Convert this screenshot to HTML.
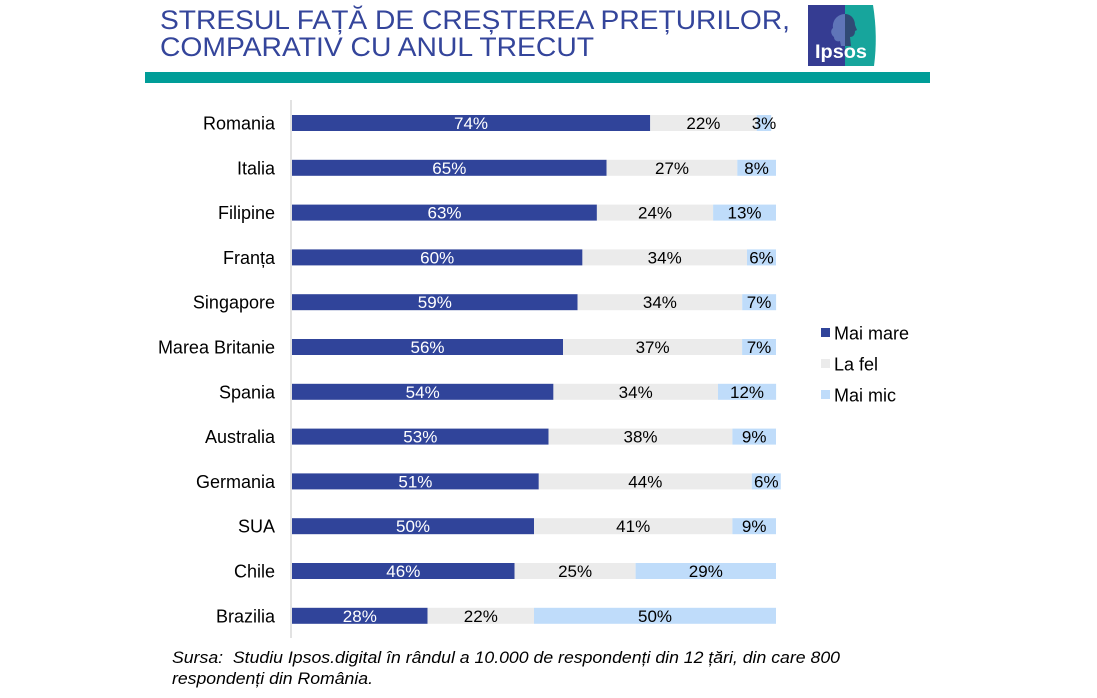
<!DOCTYPE html>
<html>
<head>
<meta charset="utf-8">
<style>
  html,body{margin:0;padding:0;background:#fff;}
  body{width:1097px;height:698px;overflow:hidden;}
  svg{display:block;font-family:"Liberation Sans",Arial,sans-serif;}
</style>
</head>
<body>
<svg width="1097" height="698" viewBox="0 0 1097 698" xmlns="http://www.w3.org/2000/svg">
  <!-- Title -->
  <g fill="#34459b" font-size="26.5">
    <text x="160" y="29" textLength="630" lengthAdjust="spacingAndGlyphs">STRESUL FAȚĂ DE CREȘTEREA PREȚURILOR,</text>
    <text x="160" y="56" textLength="434" lengthAdjust="spacingAndGlyphs">COMPARATIV CU ANUL TRECUT</text>
  </g>
  <!-- Logo -->
  <g>
    <rect x="808" y="5" width="38" height="61" fill="#353c92"/>
    <path d="M845 5 H873 Q878 36 874 66 H845 Z" fill="#17a59c"/>
    <path d="M845 14 C838 14 832 20 833 28 C830 30 831 35 834 37 C834 41 838 42 840 41 L841 46 H845 Z" fill="#6a83c2" opacity="0.8"/>
    <path d="M845 14 C851 14 855 19 855 25 L857 30 L855 31 C855 35 853 37 850 37 L851 46 H845 Z" fill="#35396f" opacity="0.85"/>
    <text x="841" y="58" font-size="19" font-weight="bold" fill="#fff" text-anchor="middle" textLength="52" lengthAdjust="spacingAndGlyphs">Ipsos</text>
  </g>
  <!-- Teal bar -->
  <rect x="145" y="72" width="785" height="11" fill="#009d98"/>

  <!-- Axis line -->
  <line x1="291" y1="100" x2="291" y2="638" stroke="#d9d9d9" stroke-width="1.5"/>

  <!-- Bars -->
  <g font-size="17">
    <g>
      <rect x="292" y="115" width="358.2" height="16" fill="#30449a"/>
      <rect x="650.2" y="115" width="106.5" height="16" fill="#ebebeb"/>
      <rect x="756.7" y="115" width="14.5" height="16" fill="#bfdcfa"/>
      <text x="471" y="129" fill="#fff" text-anchor="middle">74%</text>
      <text x="703.4" y="129" fill="#000" text-anchor="middle">22%</text>
      <text x="764" y="129" fill="#000" text-anchor="middle">3%</text>
    </g>
    <g>
      <rect x="292" y="159.8" width="314.6" height="16" fill="#30449a"/>
      <rect x="606.6" y="159.8" width="130.7" height="16" fill="#ebebeb"/>
      <rect x="737.3" y="159.8" width="38.7" height="16" fill="#bfdcfa"/>
      <text x="449.3" y="173.8" fill="#fff" text-anchor="middle">65%</text>
      <text x="672" y="173.8" text-anchor="middle">27%</text>
      <text x="756.6" y="173.8" text-anchor="middle">8%</text>
    </g>
    <g>
      <rect x="292" y="204.6" width="304.9" height="16" fill="#30449a"/>
      <rect x="596.9" y="204.6" width="116.2" height="16" fill="#ebebeb"/>
      <rect x="713.1" y="204.6" width="62.9" height="16" fill="#bfdcfa"/>
      <text x="444.5" y="218.6" fill="#fff" text-anchor="middle">63%</text>
      <text x="655" y="218.6" text-anchor="middle">24%</text>
      <text x="744.5" y="218.6" text-anchor="middle">13%</text>
    </g>
    <g>
      <rect x="292" y="249.4" width="290.4" height="16" fill="#30449a"/>
      <rect x="582.4" y="249.4" width="164.6" height="16" fill="#ebebeb"/>
      <rect x="747" y="249.4" width="29" height="16" fill="#bfdcfa"/>
      <text x="437.2" y="263.4" fill="#fff" text-anchor="middle">60%</text>
      <text x="664.7" y="263.4" text-anchor="middle">34%</text>
      <text x="761.5" y="263.4" text-anchor="middle">6%</text>
    </g>
    <g>
      <rect x="292" y="294.2" width="285.6" height="16" fill="#30449a"/>
      <rect x="577.6" y="294.2" width="164.6" height="16" fill="#ebebeb"/>
      <rect x="742.2" y="294.2" width="33.9" height="16" fill="#bfdcfa"/>
      <text x="434.8" y="308.2" fill="#fff" text-anchor="middle">59%</text>
      <text x="659.9" y="308.2" text-anchor="middle">34%</text>
      <text x="759.1" y="308.2" text-anchor="middle">7%</text>
    </g>
    <g>
      <rect x="292" y="339" width="271" height="16" fill="#30449a"/>
      <rect x="563" y="339" width="179.1" height="16" fill="#ebebeb"/>
      <rect x="742.1" y="339" width="33.9" height="16" fill="#bfdcfa"/>
      <text x="427.5" y="353" fill="#fff" text-anchor="middle">56%</text>
      <text x="652.6" y="353" text-anchor="middle">37%</text>
      <text x="759" y="353" text-anchor="middle">7%</text>
    </g>
    <g>
      <rect x="292" y="383.8" width="261.4" height="16" fill="#30449a"/>
      <rect x="553.4" y="383.8" width="164.6" height="16" fill="#ebebeb"/>
      <rect x="718" y="383.8" width="58.1" height="16" fill="#bfdcfa"/>
      <text x="422.7" y="397.8" fill="#fff" text-anchor="middle">54%</text>
      <text x="635.7" y="397.8" text-anchor="middle">34%</text>
      <text x="747" y="397.8" text-anchor="middle">12%</text>
    </g>
    <g>
      <rect x="292" y="428.6" width="256.5" height="16" fill="#30449a"/>
      <rect x="548.5" y="428.6" width="183.9" height="16" fill="#ebebeb"/>
      <rect x="732.4" y="428.6" width="43.6" height="16" fill="#bfdcfa"/>
      <text x="420.3" y="442.6" fill="#fff" text-anchor="middle">53%</text>
      <text x="640.5" y="442.6" text-anchor="middle">38%</text>
      <text x="754.2" y="442.6" text-anchor="middle">9%</text>
    </g>
    <g>
      <rect x="292" y="473.4" width="246.8" height="16" fill="#30449a"/>
      <rect x="538.8" y="473.4" width="213" height="16" fill="#ebebeb"/>
      <rect x="751.8" y="473.4" width="29" height="16" fill="#bfdcfa"/>
      <text x="415.4" y="487.4" fill="#fff" text-anchor="middle">51%</text>
      <text x="645.3" y="487.4" text-anchor="middle">44%</text>
      <text x="766.3" y="487.4" text-anchor="middle">6%</text>
    </g>
    <g>
      <rect x="292" y="518.2" width="242" height="16" fill="#30449a"/>
      <rect x="534" y="518.2" width="198.4" height="16" fill="#ebebeb"/>
      <rect x="732.4" y="518.2" width="43.6" height="16" fill="#bfdcfa"/>
      <text x="413" y="532.2" fill="#fff" text-anchor="middle">50%</text>
      <text x="633.2" y="532.2" text-anchor="middle">41%</text>
      <text x="754.2" y="532.2" text-anchor="middle">9%</text>
    </g>
    <g>
      <rect x="292" y="563" width="222.6" height="16" fill="#30449a"/>
      <rect x="514.6" y="563" width="121" height="16" fill="#ebebeb"/>
      <rect x="635.6" y="563" width="140.4" height="16" fill="#bfdcfa"/>
      <text x="403.3" y="577" fill="#fff" text-anchor="middle">46%</text>
      <text x="575.1" y="577" text-anchor="middle">25%</text>
      <text x="705.8" y="577" text-anchor="middle">29%</text>
    </g>
    <g>
      <rect x="292" y="607.8" width="135.5" height="16" fill="#30449a"/>
      <rect x="427.5" y="607.8" width="106.5" height="16" fill="#ebebeb"/>
      <rect x="534" y="607.8" width="242" height="16" fill="#bfdcfa"/>
      <text x="359.8" y="621.8" fill="#fff" text-anchor="middle">28%</text>
      <text x="480.8" y="621.8" text-anchor="middle">22%</text>
      <text x="655" y="621.8" text-anchor="middle">50%</text>
    </g>
  </g>

  <!-- Category labels -->
  <g font-size="18" fill="#000" text-anchor="end">
    <text x="275" y="129.5">Romania</text>
    <text x="275" y="174.3">Italia</text>
    <text x="275" y="219.1">Filipine</text>
    <text x="275" y="263.9">Franța</text>
    <text x="275" y="308.7">Singapore</text>
    <text x="275" y="353.5">Marea Britanie</text>
    <text x="275" y="398.3">Spania</text>
    <text x="275" y="443.1">Australia</text>
    <text x="275" y="487.9">Germania</text>
    <text x="275" y="532.7">SUA</text>
    <text x="275" y="577.5">Chile</text>
    <text x="275" y="622.3">Brazilia</text>
  </g>

  <!-- Legend -->
  <g font-size="18" fill="#000">
    <rect x="821" y="328" width="9" height="9" fill="#30449a"/>
    <text x="834" y="339.5">Mai mare</text>
    <rect x="821" y="359" width="9" height="9" fill="#ebebeb"/>
    <text x="834" y="370.5">La fel</text>
    <rect x="821" y="390" width="9" height="9" fill="#bfdcfa"/>
    <text x="834" y="401.5">Mai mic</text>
  </g>

  <!-- Footer -->
  <g font-size="17" font-style="italic" fill="#000">
    <text x="172" y="663" textLength="668" lengthAdjust="spacingAndGlyphs" xml:space="preserve">Sursa:  Studiu Ipsos.digital în rândul a 10.000 de respondenți din 12 țări, din care 800</text>
    <text x="172" y="684" textLength="201" lengthAdjust="spacingAndGlyphs">respondenți din România.</text>
  </g>
</svg>
</body>
</html>
